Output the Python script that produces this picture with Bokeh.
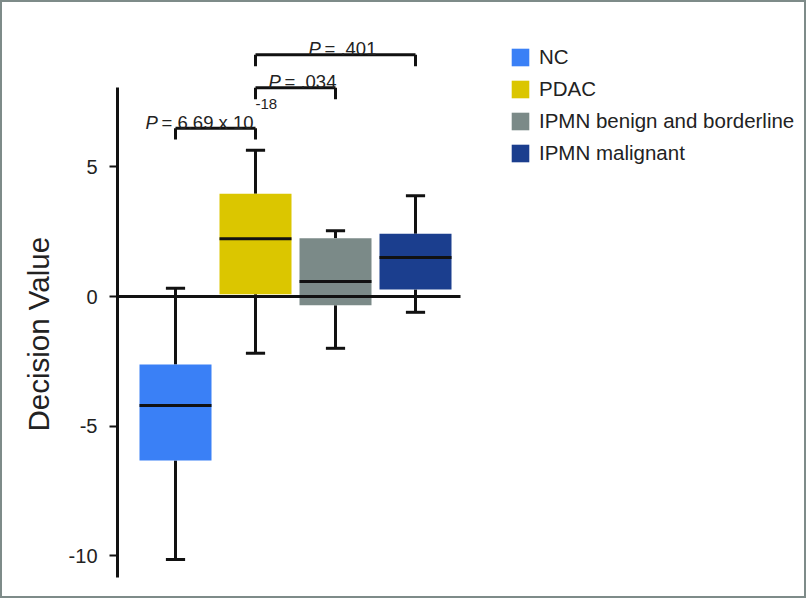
from bokeh.plotting import figure
from bokeh.models import ColumnDataSource, Range1d, FixedTicker, Title
from bokeh.embed import file_html
from bokeh.resources import INLINE
from bokeh.core.properties import value

# ---------------- data ----------------
groups = ["NC", "PDAC", "IPMN benign and borderline", "IPMN malignant"]
lower_whisker = [-10.15, -2.19, -2.00, -0.61]
q1 = [-6.33, 0.09, -0.34, 0.27]
median = [-4.21, 2.23, 0.58, 1.51]
q3 = [-2.63, 3.97, 2.25, 2.42]
upper_whisker = [0.32, 5.65, 2.54, 3.89]
colors = ["#3a80f6", "#dbc600", "#7b8a88", "#1b3e8e"]

y_ticks = [-10, -5, 0, 5]
y_tick_labels = ["-10", "-5", "0", "5"]
y_title = "Decision Value"

comparisons = [(0, 1), (1, 2), (1, 3)]
p_mantissa = ["6.69 x 10", ".034", ".401"]
p_exponent = ["-18", "", ""]

# ---------------- layout / style constants ----------------
y_axis_bounds = (-10.85, 8.07)
bracket_top = [6.50, 8.06, 9.33]
bracket_leg = 0.44
label_dx = [-70, -27, -27]
box_w = 0.9
cap_half = 0.12
INK = "#111111"
TXT = "#222222"
FONT = "Liberation Sans"
X0, X1 = 0.275, 8.9125

xpos = list(range(1, len(groups) + 1))

p = figure(width=806, height=598,
           x_range=Range1d(X0, X1), y_range=Range1d(-11.351, 11.351),
           output_backend="svg", toolbar_location=None,
           min_border_left=115, min_border_right=0, min_border_top=0, min_border_bottom=10)
p.styles = {"border": "2px solid #7e8b89"}
p.grid.visible = False
p.outline_line_color = None
p.background_fill_color = "white"
p.border_fill_color = "white"

# y axis
yax = p.yaxis[0]
yax.ticker = FixedTicker(ticks=y_ticks)
yax.major_label_overrides = {t: l for t, l in zip(y_ticks, y_tick_labels)}
yax.bounds = y_axis_bounds
yax.axis_line_width = 3
yax.axis_line_color = INK
yax.major_tick_line_width = 2
yax.major_tick_line_color = INK
yax.major_tick_out = 8
yax.major_tick_in = 0
yax.minor_tick_line_color = None
yax.major_label_text_font = FONT
yax.major_label_text_font_size = "20px"
yax.major_label_text_color = TXT
yax.major_label_standoff = 12

# axis title, placed along the drawn part of the axis line
p.add_layout(Title(text=y_title, align="left", offset=159, standoff=22,
                   text_font=FONT, text_font_size="29.5px", text_font_style="normal",
                   text_color=TXT), "left")

# x axis as the zero line
xax = p.xaxis[0]
xax.fixed_location = 0
xax.bounds = (X0, 4.5625)
xax.ticker = FixedTicker(ticks=[])
xax.major_label_text_font_size = "0px"
xax.major_tick_line_color = None
xax.minor_tick_line_color = None
xax.axis_line_width = 3
xax.axis_line_color = INK

src = ColumnDataSource(dict(
    x=xpos, group=groups, q1=q1, q3=q3, med=median,
    lo=lower_whisker, hi=upper_whisker, color=colors,
    xl=[x - box_w / 2 for x in xpos], xr=[x + box_w / 2 for x in xpos],
    cl=[x - cap_half for x in xpos], cr=[x + cap_half for x in xpos],
))

# whiskers
p.segment(x0="x", y0="q3", x1="x", y1="hi", source=src, line_width=3, line_color=INK)
p.segment(x0="x", y0="q1", x1="x", y1="lo", source=src, line_width=3, line_color=INK)
p.segment(x0="cl", y0="hi", x1="cr", y1="hi", source=src, line_width=3, line_color=INK)
p.segment(x0="cl", y0="lo", x1="cr", y1="lo", source=src, line_width=3, line_color=INK)

# boxes
p.vbar(x="x", width=box_w, bottom="q1", top="q3", source=src,
       fill_color="color", line_color=None, legend_field="group")
# medians
p.segment(x0="xl", y0="med", x1="xr", y1="med", source=src, line_width=3, line_color=INK)

# significance brackets
bx0 = [xpos[i] for i, j in comparisons]
bx1 = [xpos[j] for i, j in comparisons]
bsrc = ColumnDataSource(dict(
    x0=bx0, x1=bx1, top=bracket_top,
    bot=[t - bracket_leg for t in bracket_top],
    xc=[(a + b) / 2 for a, b in zip(bx0, bx1)],
    dx=label_dx, dx2=[d + 16 for d in label_dx],
    dx3=[d + 110 for d in label_dx],
    pm=["= " + m for m in p_mantissa], pe=p_exponent,
    pp=["P" for _ in comparisons],
))
p.segment(x0="x0", y0="top", x1="x1", y1="top", source=bsrc, line_width=3, line_color=INK)
p.segment(x0="x0", y0="top", x1="x0", y1="bot", source=bsrc, line_width=3, line_color=INK)
p.segment(x0="x1", y0="top", x1="x1", y1="bot", source=bsrc, line_width=3, line_color=INK)

p.text(x="xc", y="top", text="pp", x_offset="dx", y_offset=-6, source=bsrc,
       text_font=value(FONT), text_font_style="italic", text_font_size="18.5px",
       text_color=TXT, text_baseline="alphabetic", text_align="left")
p.text(x="xc", y="top", text="pm", x_offset="dx2", y_offset=-6, source=bsrc,
       text_font=value(FONT), text_font_size="18.5px",
       text_color=TXT, text_baseline="alphabetic", text_align="left")
p.text(x="xc", y="top", text="pe", x_offset="dx3", y_offset=-24, source=bsrc,
       text_font=value(FONT), text_font_size="15px",
       text_color=TXT, text_baseline="alphabetic", text_align="left")

# legend
lg = p.legend[0]
lg.location = (392, 425)
lg.glyph_width = 22
lg.glyph_height = 22
lg.label_height = 22
lg.spacing = 8
lg.label_standoff = 8
lg.padding = 0
lg.margin = 0
lg.border_line_color = None
lg.background_fill_alpha = 0
lg.label_text_font = FONT
lg.label_text_font_size = "20.5px"
lg.label_text_color = TXT

open("out.html", "w").write(file_html(p, INLINE))
